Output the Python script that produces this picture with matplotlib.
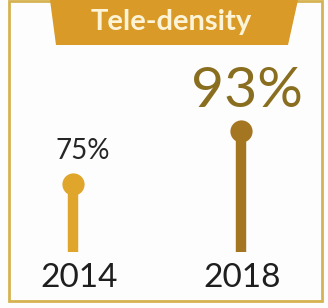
import matplotlib
matplotlib.use("Agg")
import matplotlib.pyplot as plt
from matplotlib.patches import Rectangle, Polygon

# data
years = ["2014", "2018"]
values = [75, 93]
labels = ["75%", "93%"]
colors = ["#E0A52B", "#A47621"]
title = "Tele-density"

plt.rcParams['font.family'] = ['Lato', 'DejaVu Sans']

fig = plt.figure(figsize=(3.28, 3.08), dpi=100)
fig.patch.set_facecolor("#FDFDFE")

# overlay in pixel coords for frame + banner
deco = fig.add_axes([0, 0, 1, 1])
deco.set_xlim(0, 328)
deco.set_ylim(308, 0)
deco.axis("off")
deco.add_patch(Rectangle((9, 1), 313, 300, fill=False, edgecolor="#D6B352", lw=2))
deco.add_patch(Polygon([(50, 0), (298, 0), (288, 45), (56, 45)], closed=True,
                       facecolor="#D99A27", edgecolor="none"))
deco.text(171, 22, title, ha="center", va="center", fontsize=21, fontweight="bold",
          color="#FDF3D6")

# lollipops: baseline ~52 maps to pixel 252
ax = fig.add_axes([0, 56 / 308, 1, 1 - 56 / 308])
ax.set_xlim(-0.4345, 1.5179)
ax.set_ylim(52, 52 + 252 / 2.944)
ax.axis("off")
ax.patch.set_alpha(0)

xs = [0, 1]
for x, v, c in zip(xs, values, colors):
    ax.vlines(x, 52, v, color=c, lw=7.5)
    ax.plot(x, v, "o", color=c, ms=16, mec="none")

ax.annotate(labels[0], (xs[0], values[0]), xytext=(10, 33), textcoords="offset pixels",
            ha="center", va="center", fontsize=20, color="#262626")
ax.annotate(labels[1], (xs[1], values[1]), xytext=(6, 40), textcoords="offset pixels",
            ha="center", va="center", fontsize=41, color="#8A6E20")

for x, y in zip(xs, years):
    ax.annotate(y, (x, 52), xytext=(6 if x == 0 else 1, -26), textcoords="offset pixels",
                ha="center", va="center", fontsize=24, color="#1F1F1F")

fig.savefig("out.png", dpi=100, facecolor=fig.get_facecolor())
